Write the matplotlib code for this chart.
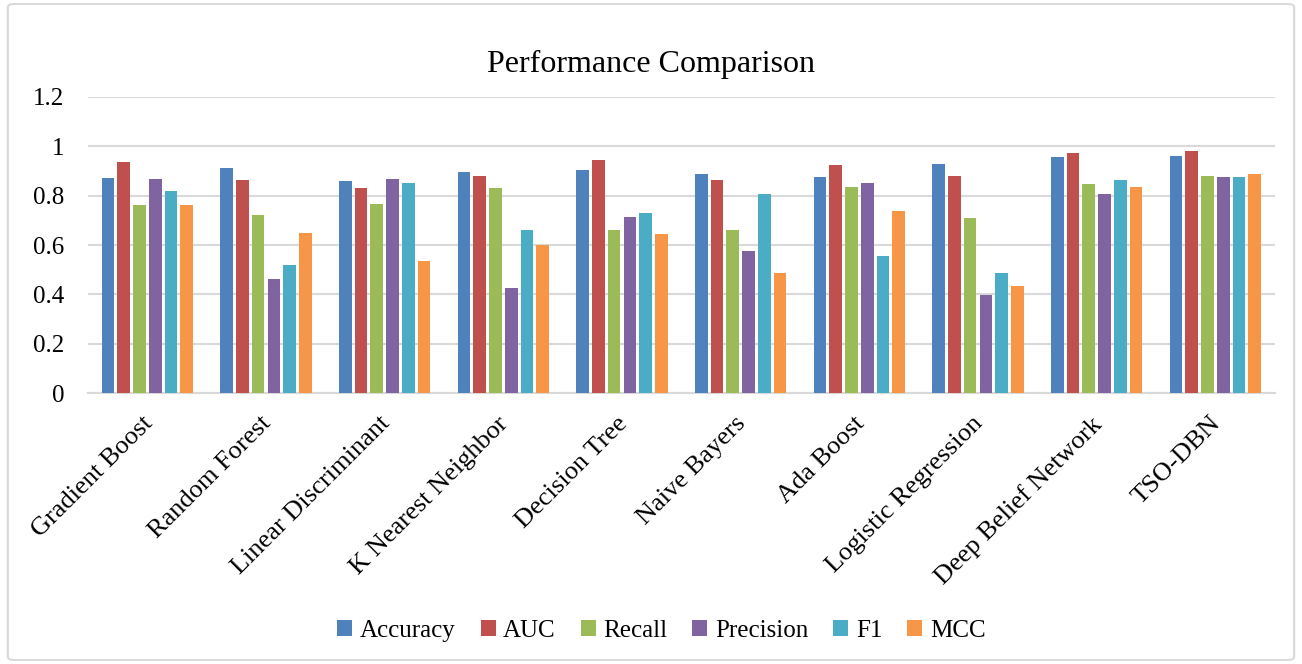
#Performance comparison of classifiers
#Grouped bar chart of six metrics per model

import matplotlib.pyplot as plt
import matplotlib.transforms as mtransforms
import numpy as np
from matplotlib.patches import FancyBboxPatch

plt.rcParams['font.family'] = ['Liberation Serif', 'DejaVu Serif']

#Models on the x axis
models = ['Gradient Boost', 'Random Forest', 'Linear Discriminant', 'K Nearest Neighbor',
          'Decision Tree', 'Naive Bayers', 'Ada Boost', 'Logistic Regression',
          'Deep Belief Network', 'TSO-DBN']

#Metric scores for each model
accuracy = [0.873, 0.912, 0.859, 0.897, 0.904, 0.886, 0.876, 0.927, 0.958, 0.962]
auc = [0.936, 0.862, 0.830, 0.880, 0.943, 0.862, 0.923, 0.880, 0.974, 0.981]
recall = [0.762, 0.723, 0.768, 0.831, 0.661, 0.661, 0.834, 0.711, 0.847, 0.881]
precision = [0.866, 0.464, 0.869, 0.427, 0.715, 0.574, 0.850, 0.396, 0.808, 0.874]
f1 = [0.819, 0.518, 0.851, 0.662, 0.731, 0.808, 0.557, 0.485, 0.865, 0.874]
mcc = [0.762, 0.650, 0.534, 0.600, 0.646, 0.485, 0.739, 0.432, 0.834, 0.886]

metric_names = ['Accuracy', 'AUC', 'Recall', 'Precision', 'F1', 'MCC']
metric_values = [accuracy, auc, recall, precision, f1, mcc]
colors = ['#4F81BD', '#C0504D', '#9BBB59', '#8064A2', '#4BACC6', '#F79646']

fig = plt.figure(figsize=(13.02, 6.64), dpi=100)
ax = fig.add_axes([0.0676, 0.408, 0.9114, 0.446])

#Grouped bars, six per model
x = np.arange(len(models))
pitch = 0.133
for i, (name, vals, c) in enumerate(zip(metric_names, metric_values, colors)):
    offset = (i - 2.5) * pitch
    ax.bar(x + offset, vals, width=0.107, color=c, label=name, zorder=3)

#Axis formatting
ax.set_xlim(-0.5, len(models) - 0.5)
ax.set_ylim(0, 1.2)
ax.set_yticks([0, 0.2, 0.4, 0.6, 0.8, 1.0, 1.2])
ax.set_yticklabels(['0', '0.2', '0.4', '0.6', '0.8', '1', '1.2'], fontsize=18)
ax.set_xticks(x)
ax.set_xticklabels(models, rotation=45, ha='right', rotation_mode='anchor', fontsize=19)
ax.tick_params(axis='both', length=0)
ax.tick_params(axis='y', pad=17)
ax.tick_params(axis='x', pad=14)
#nudge the slanted labels a little to the left
shift = mtransforms.ScaledTranslation(-6 / 100, 0, fig.dpi_scale_trans)
for lbl in ax.get_xticklabels():
    lbl.set_transform(lbl.get_transform() + shift)
ax.grid(axis='y', color='#D9D9D9', linewidth=1.5, zorder=0)
for side in ['top', 'right', 'left']:
    ax.spines[side].set_visible(False)
ax.spines['bottom'].set_color('#D9D9D9')
ax.spines['bottom'].set_linewidth(1.5)

fig.suptitle('Performance Comparison', y=0.925, fontsize=23)

#Legend along the bottom
fig.legend(loc='center', bbox_to_anchor=(0.508, 0.05), ncol=6, frameon=False, fontsize=18,
           handlelength=0.6, handleheight=0.6, handletextpad=0.3, columnspacing=1.0)

#Chart area border
border = FancyBboxPatch((0.006, 0.006), 0.988, 0.988, boxstyle='round,pad=0,rounding_size=0.005',
                        transform=fig.transFigure, facecolor='none', edgecolor='#D9D9D9',
                        linewidth=1.5)
fig.patches.append(border)

fig.savefig('out.png', dpi=100)
